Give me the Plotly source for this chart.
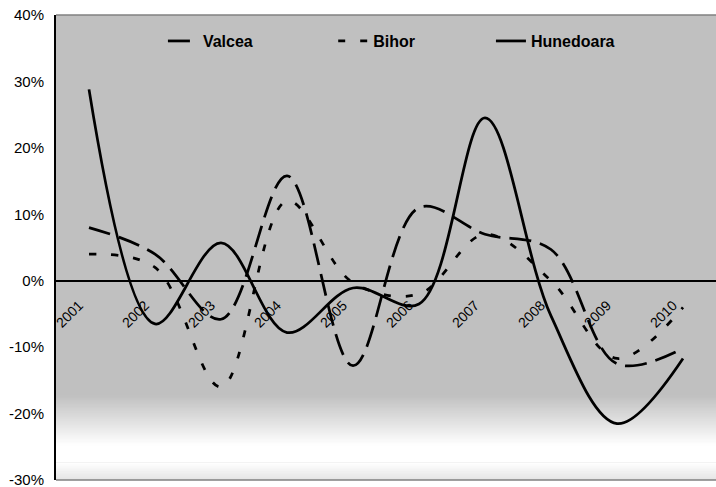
import plotly.graph_objects as go

years = ["2001", "2002", "2003", "2004", "2005", "2006", "2007", "2008", "2009", "2010"]
valcea = [8.0, 4.0, -5.8, 15.8, -12.8, 11.0, 7.0, 4.7, -12.5, -10.2]
bihor = [4.0, 2.0, -16.0, 12.0, -0.3, -2.0, 7.0, 0.0, -11.7, -4.0]
hunedoara = [28.8, -6.5, 5.7, -7.8, -1.1, -3.5, 24.5, -5.3, -21.5, -11.7]

y_ticks = [-30, -20, -10, 0, 10, 20, 30, 40]
y_tick_text = ["-30%", "-20%", "-10%", "0%", "10%", "20%", "30%", "40%"]

FONT = "Liberation Sans, Arial, sans-serif"
Y_MIN, Y_MAX = -30, 40

fig = go.Figure()

series = [
    ("Valcea", valcea, "22px,9px", "legend"),
    ("Bihor", bihor, "7px,15px", "legend2"),
    ("Hunedoara", hunedoara, "solid", "legend3"),
]
for name, vals, dash, leg in series:
    fig.add_trace(go.Scatter(
        x=years, y=vals, name=name, mode="lines",
        line=dict(color="black", width=2.75, dash=dash, shape="spline", smoothing=1.0),
        legend=leg,
    ))

# background gradient (gray -> white -> light gray) near the bottom of the plot area
def hexc(v):
    v = int(round(v))
    return "#%02x%02x%02x" % (v, v, v)

stops = [(40.0, 192), (-17.3, 192), (-24.8, 255), (-27.4, 255), (-30.0, 228)]
shapes = []
n_sub = 40
for (y0, c0), (y1, c1) in zip(stops[:-1], stops[1:]):
    if c0 == c1:
        shapes.append(dict(type="rect", xref="paper", yref="y", x0=0, x1=1, y0=y1, y1=y0,
                           fillcolor=hexc(c0), line=dict(width=0), layer="below"))
        continue
    for i in range(n_sub):
        a0 = y0 + (y1 - y0) * i / n_sub
        c = c0 + (c1 - c0) * (i + 0.5) / n_sub
        # each band extends to the bottom of the segment; later bands overlay -> no gaps
        shapes.append(dict(type="rect", xref="paper", yref="y", x0=0, x1=1, y0=y1, y1=a0,
                           fillcolor=hexc(c), line=dict(width=0), layer="below"))
# top and bottom gray borders
shapes.append(dict(type="line", xref="paper", yref="paper", x0=0, x1=1, y0=1, y1=1,
                   line=dict(color="#808080", width=1.5), layer="above"))
shapes.append(dict(type="line", xref="paper", yref="paper", x0=0, x1=1, y0=0, y1=0,
                   line=dict(color="#808080", width=1.5), layer="above"))

legend_common = dict(orientation="h", yanchor="middle", y=0.944, xanchor="left",
                     bgcolor="rgba(0,0,0,0)", borderwidth=0,
                     font=dict(family=FONT, size=16, color="black", weight="bold"))

fig.update_layout(
    width=716, height=487,
    margin=dict(l=56, r=0, t=15, b=7),
    paper_bgcolor="white",
    plot_bgcolor="#c0c0c0",
    shapes=shapes,
    showlegend=True,
    legend=dict(x=0.162, **legend_common),
    legend2=dict(x=0.42, **legend_common),
    legend3=dict(x=0.659, **legend_common),
    xaxis=dict(
        type="category", range=[-0.5, 9.5],
        anchor="free", position=(0 - Y_MIN) / (Y_MAX - Y_MIN),
        showline=True, linecolor="black", linewidth=2,
        showgrid=False, zeroline=False, ticks="",
        tickangle=-45, tickfont=dict(family=FONT, size=14, color="black"),
        ticklabelstandoff=10, ticklabelshift=-10,
        fixedrange=True,
    ),
    yaxis=dict(
        range=[Y_MIN, Y_MAX], tickvals=y_ticks, ticktext=y_tick_text,
        showline=True, linecolor="black", linewidth=2, mirror=False,
        showgrid=False, zeroline=False, ticks="",
        tickfont=dict(family=FONT, size=15, color="black"),
        ticklabelstandoff=7, ticklabeloverflow="allow",
        fixedrange=True,
    ),
)

fig.write_html("out.html", config={"displayModeBar": False},
               post_script="document.body.style.margin='0px';")
